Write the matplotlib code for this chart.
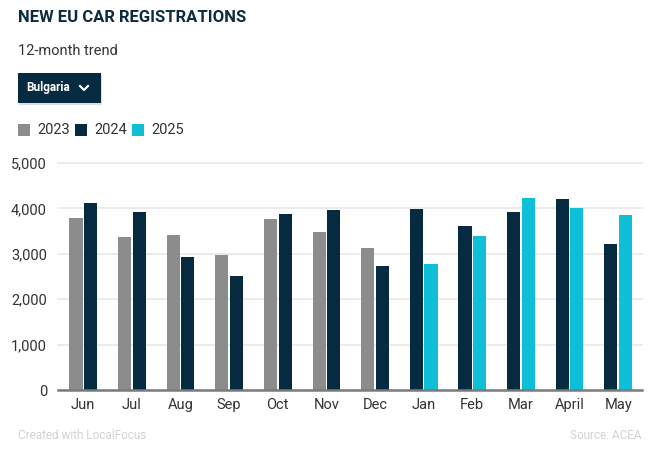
import matplotlib.pyplot as plt
from matplotlib.patches import FancyBboxPatch, Rectangle
from matplotlib.lines import Line2D

# Data
months = ["Jun", "Jul", "Aug", "Sep", "Oct", "Nov", "Dec",
          "Jan", "Feb", "Mar", "April", "May"]
v2023 = [3783, 3363, 3407, 2965, 3761, 3473, 3119,
         None, None, None, None, None]
v2024 = [4115, 3916, 2928, 2522, 3872, 3960, 2721,
         3982, 3606, 3916, 4204, 3208]
v2025 = [None, None, None, None, None, None, None,
         2765, 3385, 4226, 4004, 3850]
years = ["2023", "2024", "2025"]
yticks = [0, 1000, 2000, 3000, 4000, 5000]

colors = {"2023": "#8b8c8d", "2024": "#062b40", "2025": "#0fbfd8"}
series = {"2023": v2023, "2024": v2024, "2025": v2025}

plt.rcParams['font.family'] = ['Roboto', 'DejaVu Sans']

W, H = 669, 461
fig = plt.figure(figsize=(W / 100, H / 100), dpi=100)
fig.patch.set_facecolor("white")

def fx(px):
    return px / W

def fy(py):
    return 1 - py / H

ax = fig.add_axes([fx(58), fy(390), fx(642) - fx(58), fy(163) - fy(390)])

bar_w = 0.27
gap = 0.03
for i, m in enumerate(months):
    present = [y for y in years if series[y][i] is not None]
    n = len(present)
    total = n * bar_w + (n - 1) * gap
    start = i - total / 2 + bar_w / 2
    for k, y in enumerate(present):
        ax.bar(start + k * (bar_w + gap), series[y][i], width=bar_w,
               color=colors[y], zorder=3)

ax.set_xlim(-0.52, len(months) - 0.51)
ax.set_ylim(0, 5000)
ax.set_yticks(yticks)
ax.set_yticklabels([f"{v:,}" for v in yticks])
ax.set_xticks(range(len(months)))
ax.set_xticklabels(months)
ax.tick_params(axis="both", length=0, labelsize=10.5, colors="#333333")
ax.tick_params(axis="y", pad=8)
ax.tick_params(axis="x", pad=6)
ax.grid(axis="y", color="#e9e9e9", linewidth=1.3, zorder=0)
ax.set_axisbelow(True)
for s in ["top", "right", "left"]:
    ax.spines[s].set_visible(False)
ax.spines["bottom"].set_color("#7a7a7a")
ax.spines["bottom"].set_linewidth(1.8)
ax.spines["bottom"].set_zorder(4)
ax.grid(axis="x", visible=False)
for gl in ax.get_ygridlines():
    gl.set_clip_on(False)

# Title and subtitle
fig.text(fx(18), fy(18), "NEW EU CAR REGISTRATIONS", fontsize=12,
         fontweight="bold", color="#0d2b3e", va="center", ha="left")
fig.text(fx(18), fy(51), "12-month trend", fontsize=10.5,
         color="#333333", va="center", ha="left")

# Dropdown button
shadow = FancyBboxPatch((fx(19), fy(105)), fx(101) - fx(18), fy(73) - fy(103),
                        boxstyle="square,pad=0", transform=fig.transFigure,
                        facecolor="#c8c8c8", edgecolor="none", alpha=0.6)
fig.patches.append(shadow)
btn = FancyBboxPatch((fx(18), fy(103)), fx(101) - fx(18), fy(73) - fy(103),
                     boxstyle="square,pad=0", transform=fig.transFigure,
                     facecolor="#062b40", edgecolor="none")
fig.patches.append(btn)
fig.text(fx(26), fy(88), "Bulgaria", fontsize=8.5, fontweight="bold",
         color="white", va="center", ha="left")
fig.lines.append(Line2D([fx(80), fx(84), fx(88)], [fy(86), fy(90), fy(86)],
                        transform=fig.transFigure, color="white", linewidth=1.5))

# Legend
leg_x = [18, 75, 132]
for x, y in zip(leg_x, years):
    fig.patches.append(Rectangle((fx(x), fy(136)), fx(12), fy(124) - fy(136),
                                 transform=fig.transFigure,
                                 facecolor=colors[y], edgecolor="none"))
    fig.text(fx(x + 19), fy(130), y, fontsize=10.5, color="#333333",
             va="center", ha="left")

# Footer
fig.text(fx(18), fy(435), "Created with LocalFocus", fontsize=8.5,
         color="#d2d2d2", va="center", ha="left")
fig.text(fx(642), fy(435), "Source: ACEA", fontsize=8.5,
         color="#d2d2d2", va="center", ha="right")

fig.savefig("out.png", dpi=100)
